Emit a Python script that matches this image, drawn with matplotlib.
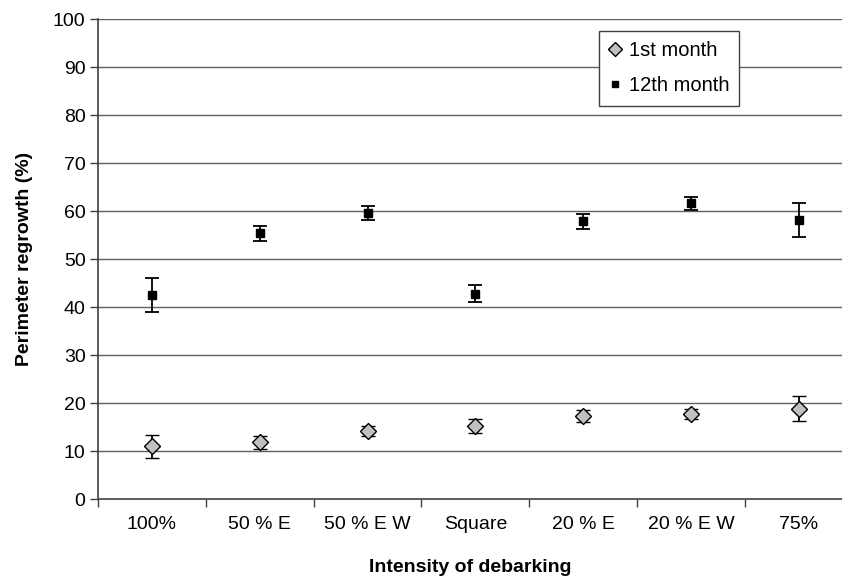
"""Perimeter regrowth after debarking, 1st vs 12th month, with error bars."""

import matplotlib
matplotlib.use("Agg")
import matplotlib.pyplot as plt
from matplotlib.ticker import FixedLocator
import numpy as np

plt.rcParams["font.family"] = ["Liberation Sans", "DejaVu Sans"]

CATEGORIES = ["100%", "50 % E", "50 % E W", "Square", "20 % E", "20 % E W", "75%"]
MONTH1 = [11.0, 11.8, 14.2, 15.2, 17.3, 17.7, 18.8]
MONTH1_ERR = [2.4, 1.4, 1.1, 1.5, 1.2, 1.1, 2.6]
MONTH12 = [42.5, 55.4, 59.6, 42.8, 57.9, 61.6, 58.2]
MONTH12_ERR = [3.6, 1.6, 1.5, 1.8, 1.6, 1.3, 3.5]

FS = 14


def main():
    fig = plt.figure(figsize=(8.42, 5.84), dpi=100)
    ax = fig.add_axes([0.1164, 0.1455, 0.8836, 0.8215])

    x = np.arange(len(CATEGORIES))
    for y in range(10, 101, 10):
        ax.axhline(y, color="#606060", lw=1.0, zorder=1)

    ax.errorbar(x, MONTH1, yerr=MONTH1_ERR, fmt="D", ms=8,
                mfc="#c0c0c0", mec="black", mew=1.0, ecolor="black",
                elinewidth=1.3, capsize=5, capthick=1.3, zorder=3,
                label="1st month")
    ax.errorbar(x, MONTH12, yerr=MONTH12_ERR, fmt="s", ms=5.5,
                mfc="black", mec="black", ecolor="black",
                elinewidth=1.3, capsize=5, capthick=1.3, zorder=3,
                label="12th month")

    ax.set_xlim(-0.5, 6.4)
    ax.set_ylim(0, 100)
    ax.set_yticks(range(0, 101, 10))
    ax.set_xticks(x)
    ax.set_xticklabels(CATEGORIES)
    ax.xaxis.set_minor_locator(FixedLocator(np.arange(-0.5, 6.5, 1.0)))
    ax.tick_params(axis="x", which="major", length=0, pad=12, labelsize=FS)
    ax.tick_params(axis="x", which="minor", length=6, width=1.0,
                   color="#404040", direction="out")
    ax.tick_params(axis="y", length=6, width=1.0, color="#404040",
                   direction="out", labelsize=FS, pad=3)

    for side in ("top", "right"):
        ax.spines[side].set_visible(False)
    for side in ("left", "bottom"):
        ax.spines[side].set_color("#404040")
        ax.spines[side].set_linewidth(1.2)

    ax.set_xlabel("Intensity of debarking", fontsize=FS, fontweight="bold",
                  labelpad=19)
    ax.set_ylabel("Perimeter regrowth (%)", fontsize=FS, fontweight="bold",
                  labelpad=14)

    handles, labels = ax.get_legend_handles_labels()
    handles = [h[0] for h in handles]
    leg = ax.legend(handles, labels, loc="upper left",
                    bbox_to_anchor=(0.673, 0.975), fontsize=14.5,
                    frameon=True, fancybox=False, framealpha=1,
                    edgecolor="#404040", handlelength=0.6,
                    handletextpad=0.4, borderpad=0.5, labelspacing=0.8,
                    borderaxespad=0, markerscale=0.85)
    leg.get_frame().set_linewidth(1.0)

    fig.savefig("out.png", dpi=100)


if __name__ == "__main__":
    main()
